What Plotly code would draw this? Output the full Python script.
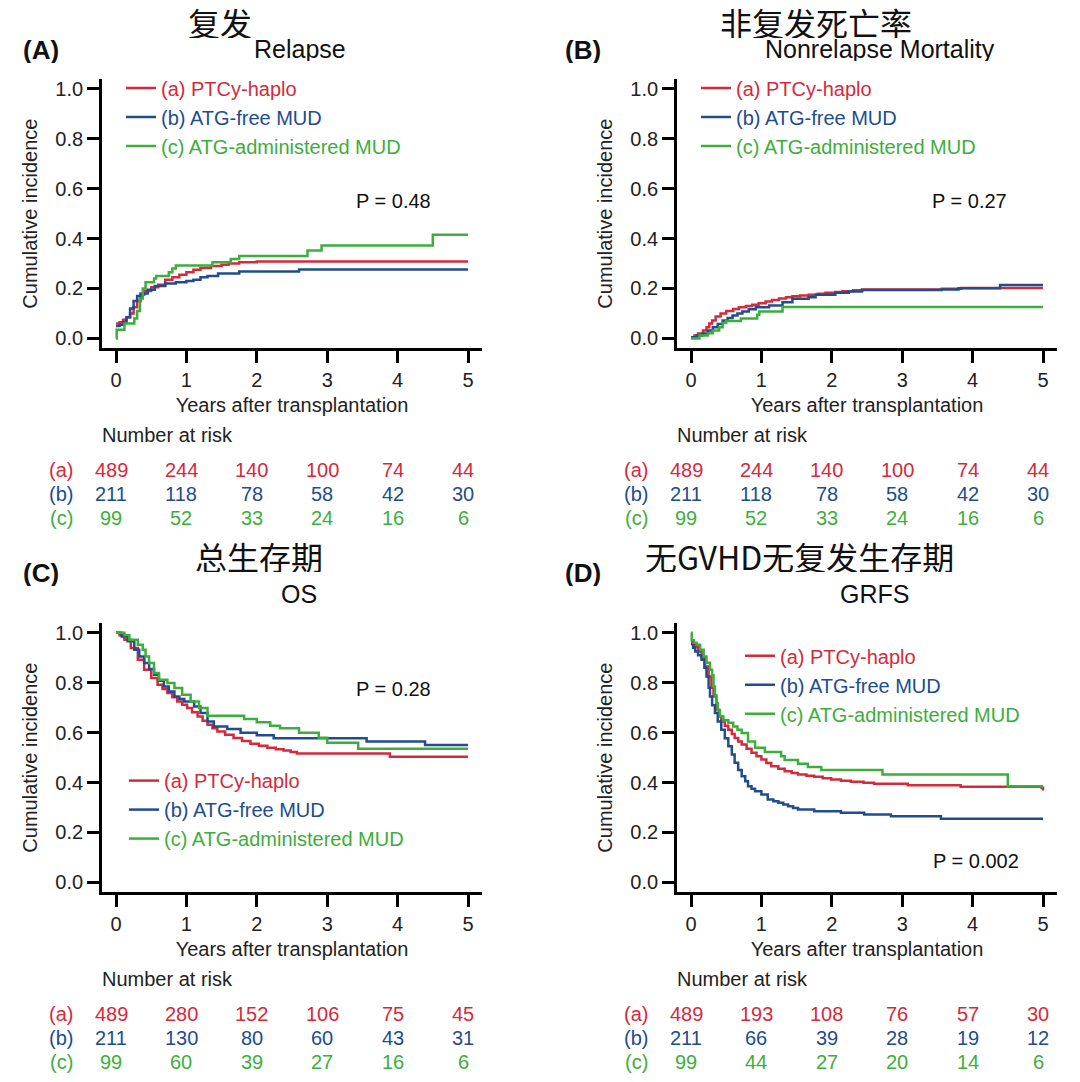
import plotly.graph_objects as go

# ---------------- data ----------------
TICKS_X = [0, 1, 2, 3, 4, 5]
TICKS_Y = [0.0, 0.2, 0.4, 0.6, 0.8, 1.0]
GROUP_LABELS = ["(a) PTCy-haplo", "(b) ATG-free MUD", "(c) ATG-administered MUD"]
ROW_TAGS = ["(a)", "(b)", "(c)"]

# Panel A: Relapse
relapse_a_t = [0, 0.05, 0.1, 0.15, 0.2, 0.25, 0.3, 0.35, 0.4, 0.5, 0.6, 0.7, 0.8, 0.9, 1.0, 1.1, 1.2, 1.35, 1.5, 1.6, 1.75, 2.0, 5.0]
relapse_a_y = [0.06, 0.065, 0.075, 0.085, 0.1, 0.125, 0.15, 0.175, 0.19, 0.205, 0.215, 0.235, 0.245, 0.255, 0.265, 0.275, 0.282, 0.29, 0.295, 0.3, 0.305, 0.308, 0.308]
relapse_b_t = [0, 0.05, 0.1, 0.15, 0.2, 0.25, 0.3, 0.35, 0.45, 0.55, 0.7, 0.85, 1.0, 1.1, 1.2, 1.3, 1.45, 1.75, 2.6, 5.0]
relapse_b_y = [0.05, 0.055, 0.065, 0.085, 0.12, 0.15, 0.17, 0.18, 0.195, 0.21, 0.22, 0.225, 0.23, 0.235, 0.245, 0.25, 0.26, 0.268, 0.276, 0.276]
relapse_c_t = [0, 0.01, 0.12, 0.26, 0.3, 0.34, 0.38, 0.42, 0.54, 0.57, 0.75, 0.8, 0.85, 1.37, 1.63, 1.75, 2.72, 2.92, 4.5, 5.0]
relapse_c_y = [0.0, 0.035, 0.06, 0.08, 0.11, 0.16, 0.2, 0.225, 0.24, 0.25, 0.265, 0.28, 0.292, 0.305, 0.318, 0.33, 0.352, 0.372, 0.415, 0.415]

# Panel B: Nonrelapse mortality
nrm_a_t = [0, 0.05, 0.1, 0.17, 0.22, 0.26, 0.3, 0.35, 0.42, 0.5, 0.6, 0.68, 0.78, 0.87, 0.96, 1.06, 1.15, 1.25, 1.35, 1.44, 1.55, 1.67, 1.8, 1.91, 2.05, 2.15, 2.3, 2.43, 3.56, 3.84, 5.0]
nrm_a_y = [0.005, 0.012, 0.02, 0.032, 0.045, 0.06, 0.072, 0.088, 0.1, 0.11, 0.118, 0.125, 0.13, 0.135, 0.141, 0.148, 0.154, 0.16, 0.165, 0.169, 0.172, 0.175, 0.179, 0.183, 0.186, 0.189, 0.193, 0.196, 0.199, 0.202, 0.202]
nrm_b_t = [0, 0.08, 0.165, 0.24, 0.31, 0.38, 0.45, 0.52, 0.59, 0.66, 0.73, 0.82, 0.92, 1.11, 1.3, 1.44, 1.67, 1.77, 2.05, 2.24, 2.43, 3.56, 3.8, 4.39, 5.0]
nrm_b_y = [0.005, 0.012, 0.02, 0.032, 0.045, 0.058, 0.072, 0.082, 0.092, 0.1, 0.108, 0.117, 0.125, 0.132, 0.145, 0.159, 0.165, 0.175, 0.183, 0.188, 0.194, 0.196, 0.201, 0.214, 0.214]
nrm_c_t = [0, 0.12, 0.24, 0.31, 0.4, 0.45, 0.5, 0.71, 0.94, 0.97, 1.3, 5.0]
nrm_c_y = [0.0, 0.012, 0.021, 0.032, 0.045, 0.062, 0.07, 0.08, 0.095, 0.108, 0.126, 0.126]

# Panel C: Overall survival
os_a_t = [0, 0.05, 0.12, 0.21, 0.31, 0.4, 0.5, 0.59, 0.66, 0.73, 0.8, 0.87, 0.94, 1.01, 1.08, 1.16, 1.23, 1.3, 1.37, 1.44, 1.55, 1.67, 1.79, 1.91, 2.03, 2.15, 2.27, 2.38, 2.48, 2.57, 3.89, 5.0]
os_a_y = [1.0, 0.99, 0.972, 0.939, 0.892, 0.852, 0.819, 0.792, 0.775, 0.759, 0.742, 0.725, 0.712, 0.699, 0.682, 0.665, 0.648, 0.632, 0.618, 0.605, 0.592, 0.579, 0.567, 0.556, 0.547, 0.539, 0.533, 0.528, 0.522, 0.516, 0.503, 0.503]
os_b_t = [0, 0.08, 0.165, 0.26, 0.33, 0.4, 0.47, 0.54, 0.61, 0.68, 0.75, 0.83, 0.9, 0.97, 1.11, 1.2, 1.3, 1.39, 1.58, 1.77, 2.0, 2.24, 3.56, 4.39, 5.0]
os_b_y = [1.0, 0.985, 0.966, 0.932, 0.905, 0.879, 0.855, 0.832, 0.808, 0.785, 0.765, 0.745, 0.735, 0.725, 0.705, 0.679, 0.645, 0.625, 0.615, 0.6, 0.59, 0.578, 0.565, 0.55, 0.55]
os_c_t = [0, 0.12, 0.19, 0.31, 0.38, 0.42, 0.47, 0.54, 0.61, 0.73, 0.83, 0.94, 1.06, 1.18, 1.3, 1.82, 2.0, 2.19, 2.33, 2.6, 2.88, 3.0, 3.44, 5.0]
os_c_y = [1.0, 0.99, 0.972, 0.952, 0.932, 0.905, 0.879, 0.839, 0.812, 0.799, 0.779, 0.752, 0.725, 0.699, 0.668, 0.655, 0.642, 0.628, 0.618, 0.6, 0.58, 0.56, 0.535, 0.535]

# Panel D: GRFS
grfs_a_t = [0, 0.03, 0.06, 0.1, 0.15, 0.2, 0.25, 0.29, 0.32, 0.36, 0.4, 0.43, 0.48, 0.53, 0.58, 0.62, 0.67, 0.72, 0.79, 0.86, 0.93, 1.0, 1.07, 1.14, 1.24, 1.33, 1.43, 1.52, 1.64, 1.75, 1.87, 1.99, 2.13, 2.27, 2.45, 2.6, 3.08, 3.83, 4.98, 5.0]
grfs_a_y = [0.965, 0.955, 0.945, 0.925, 0.899, 0.865, 0.825, 0.78, 0.745, 0.692, 0.665, 0.645, 0.628, 0.612, 0.595, 0.579, 0.565, 0.552, 0.535, 0.519, 0.505, 0.492, 0.478, 0.465, 0.455, 0.445, 0.438, 0.432, 0.427, 0.423, 0.417, 0.412, 0.407, 0.403, 0.399, 0.395, 0.389, 0.383, 0.379, 0.368]
grfs_b_t = [0, 0.03, 0.06, 0.1, 0.15, 0.19, 0.22, 0.25, 0.27, 0.3, 0.34, 0.38, 0.43, 0.48, 0.53, 0.58, 0.62, 0.67, 0.72, 0.77, 0.81, 0.86, 0.91, 1.0, 1.09, 1.17, 1.24, 1.31, 1.38, 1.45, 1.52, 1.75, 2.13, 2.46, 2.84, 3.55, 5.0]
grfs_b_y = [0.955, 0.94, 0.925, 0.91, 0.892, 0.86, 0.825, 0.78, 0.745, 0.71, 0.679, 0.645, 0.612, 0.578, 0.545, 0.512, 0.479, 0.45, 0.425, 0.405, 0.385, 0.375, 0.365, 0.352, 0.332, 0.325, 0.319, 0.312, 0.305, 0.298, 0.292, 0.285, 0.279, 0.272, 0.265, 0.255, 0.255]
grfs_c_t = [0, 0.01, 0.04, 0.08, 0.13, 0.18, 0.22, 0.27, 0.3, 0.32, 0.34, 0.36, 0.38, 0.41, 0.46, 0.53, 0.6, 0.66, 0.72, 0.81, 0.91, 1.05, 1.28, 1.33, 1.52, 1.66, 1.85, 2.72, 4.5, 5.0]
grfs_c_y = [1.0, 0.97, 0.96, 0.952, 0.932, 0.905, 0.88, 0.852, 0.83, 0.785, 0.75, 0.719, 0.69, 0.665, 0.65, 0.64, 0.625, 0.612, 0.599, 0.565, 0.539, 0.522, 0.505, 0.49, 0.475, 0.462, 0.45, 0.432, 0.385, 0.385]

# Numbers at risk
risk_ab_a = [489, 244, 140, 100, 74, 44]
risk_ab_b = [211, 118, 78, 58, 42, 30]
risk_ab_c = [99, 52, 33, 24, 16, 6]
risk_os_a = [489, 280, 152, 106, 75, 45]
risk_os_b = [211, 130, 80, 60, 43, 31]
risk_os_c = [99, 60, 39, 27, 16, 6]
risk_grfs_a = [489, 193, 108, 76, 57, 30]
risk_grfs_b = [211, 66, 39, 28, 19, 12]
risk_grfs_c = [99, 44, 27, 20, 14, 6]

p_values = ["P = 0.48", "P = 0.27", "P = 0.28", "P = 0.002"]
cn_titles = ["复发", "非复发死亡率", "总生存期", "无GVHD无复发生存期"]
en_titles = ["Relapse", "Nonrelapse Mortality", "OS", "GRFS"]
panel_tags = ["(A)", "(B)", "(C)", "(D)"]

# ---------------- style / layout ----------------
W, H = 1080, 1082
SX, SY = 70.4, 250.0
RED, BLUE, GREEN = "#D42A3C", "#214D8E", "#3DAE3C"
COLORS = [RED, BLUE, GREEN]
FONT = "Liberation Sans, Arial, sans-serif"
CJK = "Noto Sans CJK SC"
FS = 20

panels = [
    dict(sfx="", ox=116, oy=338,
         series=[(relapse_a_t, relapse_a_y), (relapse_b_t, relapse_b_y), (relapse_c_t, relapse_c_y)],
         risk=[risk_ab_a, risk_ab_b, risk_ab_c],
         cn=(220, 21), en=(300, 48), tag=(41, 49), p=(393, 200), leg=(121, 67.5)),
    dict(sfx="2", ox=691, oy=338,
         series=[(nrm_a_t, nrm_a_y), (nrm_b_t, nrm_b_y), (nrm_c_t, nrm_c_y)],
         risk=[risk_ab_a, risk_ab_b, risk_ab_c],
         cn=(816, 21), en=(880, 48), tag=(583, 49), p=(969, 200), leg=(696, 67.5)),
    dict(sfx="3", ox=116, oy=883,
         series=[(os_a_t, os_a_y), (os_b_t, os_b_y), (os_c_t, os_c_y)],
         risk=[risk_os_a, risk_os_b, risk_os_c],
         cn=(259, 556), en=(299, 594), tag=(41, 573), p=(393, 689), leg=(124, 761.5)),
    dict(sfx="4", ox=691, oy=883,
         series=[(grfs_a_t, grfs_a_y), (grfs_b_t, grfs_b_y), (grfs_c_t, grfs_c_y)],
         risk=[risk_grfs_a, risk_grfs_b, risk_grfs_c],
         cn=(799, 556), en=(874, 594), tag=(583, 573), p=(976, 862), leg=(740, 636.5)),
]


def px(x):
    return x / W


def py(y):
    return 1 - y / H


fig = go.Figure()
annotations = []
layout = dict(width=W, height=H, autosize=False,
              margin=dict(l=0, r=0, t=0, b=0),
              paper_bgcolor="white", plot_bgcolor="white",
              font=dict(family=FONT, size=FS, color="#222"),
              showlegend=True)

for i, p in enumerate(panels):
    s = p["sfx"]
    legname = "legend" + s
    for g, (t, v) in enumerate(p["series"]):
        fig.add_trace(go.Scatter(
            x=t, y=v, mode="lines",
            line=dict(color=COLORS[g], width=2.5, shape="hv"),
            name="<span style='color:%s'>%s</span>" % (COLORS[g], GROUP_LABELS[g]),
            xaxis="x" + s, yaxis="y" + s, legend=legname, hoverinfo="x+y"))

    ox, oy = p["ox"], p["oy"]
    xdom = [px(ox - 0.2 * SX), px(ox + 5.2 * SX)]
    ydom = [py(oy + 0.04 * SY), py(oy - 1.04 * SY)]
    axcommon = dict(showline=True, linecolor="black", linewidth=2.5,
                    ticks="outside", ticklen=12, tickwidth=2.5, tickcolor="black",
                    showgrid=False, zeroline=False,
                    tickfont=dict(family=FONT, size=FS, color="#222"))
    layout["xaxis" + s] = dict(domain=xdom, range=[-0.2, 5.2], anchor="y" + s,
                               tickvals=TICKS_X,
                               title=dict(text="Years after transplantation",
                                          font=dict(family=FONT, size=FS, color="#222"),
                                          standoff=8),
                               **axcommon)
    layout["yaxis" + s] = dict(domain=ydom, range=[-0.04, 1.04], anchor="x" + s,
                               tickvals=TICKS_Y, tickformat=".1f",
                               title=dict(text="Cumulative incidence",
                                          font=dict(family=FONT, size=FS, color="#222"),
                                          standoff=13),
                               **axcommon)
    lx, ly = p["leg"]
    layout[legname] = dict(x=px(lx), y=py(ly), xanchor="left", yanchor="top",
                           bgcolor="rgba(0,0,0,0)", borderwidth=0,
                           font=dict(family=FONT, size=20, color="#222"),
                           tracegroupgap=0, itemwidth=30)

    # titles
    annotations.append(dict(xref="paper", yref="paper", x=px(p["cn"][0]), y=py(p["cn"][1]),
                            text=cn_titles[i], showarrow=False, xanchor="center", yanchor="middle",
                            height=32, valign="middle",
                            font=dict(family=CJK, size=32, color="#111")))
    annotations.append(dict(xref="paper", yref="paper", x=px(p["en"][0]), y=py(p["en"][1]),
                            text=en_titles[i], showarrow=False, xanchor="center", yanchor="middle",
                            height=24, valign="middle",
                            font=dict(family=FONT, size=25, color="#111")))
    annotations.append(dict(xref="paper", yref="paper", x=px(p["tag"][0]), y=py(p["tag"][1]),
                            text="<b>%s</b>" % panel_tags[i], showarrow=False, xanchor="center",
                            yanchor="middle", height=26, valign="middle",
                            font=dict(family=FONT, size=26, color="#111")))
    annotations.append(dict(xref="paper", yref="paper", x=px(p["p"][0]), y=py(p["p"][1]),
                            text=p_values[i], showarrow=False, xanchor="center", yanchor="middle",
                            font=dict(family=FONT, size=FS, color="#111")))
    # number at risk table
    annotations.append(dict(xref="paper", yref="paper", x=px(ox - 16), y=py(oy + 97),
                            text="Number at risk", showarrow=False, xanchor="left", yanchor="middle",
                            font=dict(family=FONT, size=FS, color="#222")))
    for g in range(3):
        rowy = py(oy + 132 + 24 * g)
        annotations.append(dict(xref="paper", yref="paper", x=px(ox - 55), y=rowy,
                                text=ROW_TAGS[g], showarrow=False, xanchor="center", yanchor="middle",
                                height=22, valign="middle",
                                font=dict(family=FONT, size=FS, color=COLORS[g])))
        for tx, n in zip(TICKS_X, p["risk"][g]):
            annotations.append(dict(xref="x" + s, yref="paper", x=tx, y=rowy, xshift=-5,
                                    text=str(n), showarrow=False, xanchor="center", yanchor="middle",
                                    height=22, valign="middle",
                                    font=dict(family=FONT, size=FS, color=COLORS[g])))

layout["annotations"] = annotations
fig.update_layout(**layout)
fig.write_html("out.html", config={"displayModeBar": False},
               post_script="document.body.style.margin='0px';")
